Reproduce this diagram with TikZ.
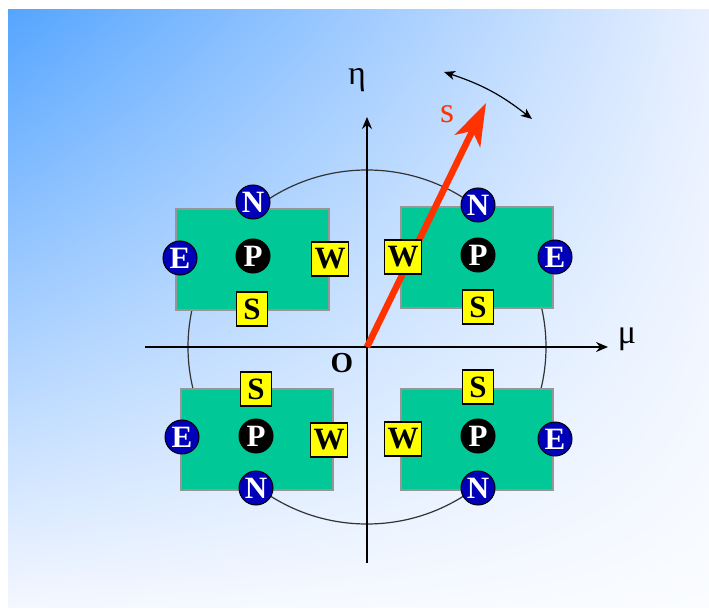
\documentclass[tikz,border=0pt]{standalone}
\usepackage{fontspec}
\setmainfont{Liberation Serif}
\usetikzlibrary{arrows.meta,shadings}
\definecolor{bgTL}{RGB}{85,165,255}
\definecolor{bgTR}{RGB}{232,240,255}
\definecolor{bgBL}{RGB}{244,247,255}
\definecolor{bgBR}{RGB}{250,252,255}
\definecolor{cellgreen}{RGB}{0,200,150}
\definecolor{cellborder}{RGB}{150,150,150}
\definecolor{nbblue}{RGB}{0,0,185}
\definecolor{faceyellow}{RGB}{255,255,0}
\definecolor{svec}{RGB}{255,50,0}
\tikzset{
  cellbox/.style={draw=cellborder, fill=cellgreen, line width=1.2pt},
  nbball/.style={circle, draw=black, line width=1pt, fill=nbblue, text=white, minimum size=34pt, inner sep=0pt, font=\fontsize{31}{33}\selectfont\bfseries},
  pball/.style={nbball, fill=black},
  facew/.style={draw=black, line width=1.4pt, fill=faceyellow, minimum width=37pt, minimum height=34pt, inner sep=0pt, font=\fontsize{31}{33}\selectfont\bfseries},
  faces/.style={facew, minimum width=31pt},
  axis/.style={line width=1.8pt, -{Stealth[length=12pt,width=10pt,inset=4pt]}},
  lbl/.style={font=\fontsize{34}{36}\selectfont, inner sep=0pt}
}
\begin{document}
\begin{tikzpicture}[x=1pt,y=-1pt]
\useasboundingbox (0,0) rectangle (709,612);
\shade[upper left=bgTL, upper right=bgTR, lower left=bgBL, lower right=bgBR] (8,10) rectangle (709,607);
% origin
\coordinate (O) at (367,347);
% big circle
\draw[line width=1.2pt, black!80] (O) ellipse [x radius=179pt, y radius=177pt];
% cells
\draw[cellbox] (176,209) rectangle (329,310) node[pos=0.5] (tl) {};
\draw[cellbox] (401,207) rectangle (553,308) node[pos=0.5] (tr) {};
\draw[cellbox] (181,389) rectangle (333,490) node[pos=0.5] (bl) {};
\draw[cellbox] (401,389) rectangle (553,490) node[pos=0.5] (br) {};
% axes
\coordinate (xa) at (145,347);
\coordinate (xb) at (608,347);
\coordinate (ya) at (367,563);
\coordinate (yb) at (367,117);
\draw[axis] (xa) -- (xb);
\draw[axis] (ya) -- (yb);
% s vector
\coordinate (stip) at (486,103);
\draw[svec, line width=6.5pt, -{Stealth[length=42pt,width=28pt,inset=11pt]}] (O) -- (stip);
% rotation arrow
\coordinate (ra) at (444,72);
\coordinate (rb) at (532,119);
\draw[line width=1.2pt, {Stealth[length=11pt,width=9pt,inset=3pt]}-{Stealth[length=11pt,width=9pt,inset=3pt]}] (ra) to[bend left=10] (rb);
% labels
\node[lbl] (eta) at (357,80) {η};
\node[lbl] (mu) at (627,339) {μ};
\node[lbl, font=\fontsize{29}{31}\selectfont\bfseries] (o) at (342,363) {O};
\node[lbl, text=svec, font=\fontsize{36}{38}\selectfont] (s) at (447,114) {s};
% top-left cell
\node[nbball] (tlN) at (253,202) {N};
\node[nbball] (tlE) at (180,258) {E};
\node[pball] (tlP) at (253,256) {P};
\node[facew] (tlW) at (330,259) {W};
\node[faces] (tlS) at (252,309) {S};
% top-right cell
\node[nbball] (trN) at (478,205) {N};
\node[nbball] (trE) at (555,257) {E};
\node[pball] (trP) at (478,255) {P};
\node[facew] (trW) at (403,257) {W};
\node[faces] (trS) at (478,307) {S};
% bottom-left cell
\node[faces] (blS) at (256,389) {S};
\node[nbball] (blE) at (182,437) {E};
\node[pball] (blP) at (256,436) {P};
\node[facew] (blW) at (329,440) {W};
\node[nbball] (blN) at (256,488) {N};
% bottom-right cell
\node[faces] (brS) at (478,387) {S};
\node[facew] (brW) at (403,439) {W};
\node[pball] (brP) at (478,436) {P};
\node[nbball] (brE) at (555,439) {E};
\node[nbball] (brN) at (478,488) {N};
\end{tikzpicture}
\end{document}
